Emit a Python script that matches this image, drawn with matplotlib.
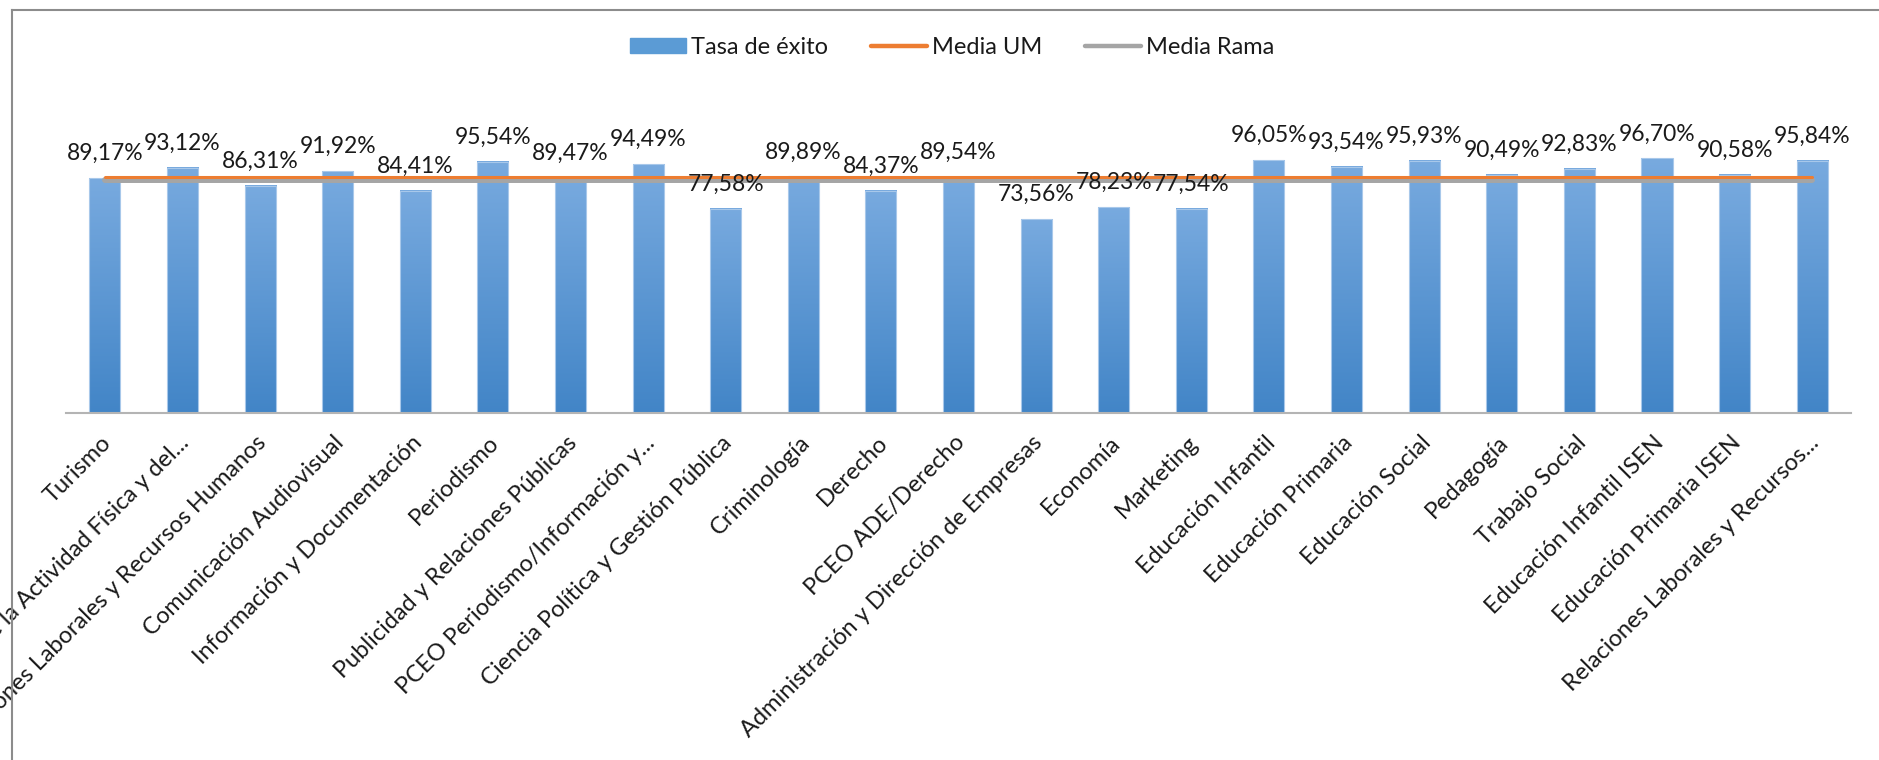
"""Tasa de éxito por titulación, con las medias UM y de rama."""

import matplotlib
matplotlib.use("Agg")
import matplotlib.pyplot as plt
import matplotlib.transforms as mtransforms
from matplotlib.colors import LinearSegmentedColormap
from matplotlib.lines import Line2D
from matplotlib.patches import Patch
import numpy as np

# ---------------------------------------------------------------------------
# Data
# ---------------------------------------------------------------------------
titulaciones = [
    "Turismo",
    "Ciencias de la Actividad Física y del...",
    "Relaciones Laborales y Recursos Humanos",
    "Comunicación Audiovisual",
    "Información y Documentación",
    "Periodismo",
    "Publicidad y Relaciones Públicas",
    "PCEO Periodismo/Información y...",
    "Ciencia Política y Gestión Pública",
    "Criminología",
    "Derecho",
    "PCEO ADE/Derecho",
    "Administración y Dirección de Empresas",
    "Economía",
    "Marketing",
    "Educación Infantil",
    "Educación Primaria",
    "Educación Social",
    "Pedagogía",
    "Trabajo Social",
    "Educación Infantil ISEN",
    "Educación Primaria ISEN",
    "Relaciones Laborales y Recursos...",
]
tasa_exito = [
    89.17, 93.12, 86.31, 91.92, 84.41, 95.54, 89.47, 94.49, 77.58, 89.89,
    84.37, 89.54, 73.56, 78.23, 77.54, 96.05, 93.54, 95.93, 90.49, 92.83,
    96.70, 90.58, 95.84,
]
MEDIA_UM = 89.7
MEDIA_RAMA = 88.4

# ---------------------------------------------------------------------------
# Style
# ---------------------------------------------------------------------------
plt.rcParams["font.family"] = ["Lato", "DejaVu Sans"]
TEXT = "#1a1a1a"
BAR_TOP = "#78aadf"
BAR_BOTTOM = "#4285c7"
ORANGE = "#ed7d31"
GREY = "#a5a5a5"
FS_LABEL = 16.5
FS_TICK = 17
FS_LEGEND = 17

W, H = 1879, 760
fig = plt.figure(figsize=(W / 100, H / 100), dpi=100)
fig.patch.set_facecolor("white")

# plot area: baseline at y=413 px, 100 % = 263 px
x_left, x_right = 66, 1851
base_y = 413
px_per_pct = 2.632
ymax = 120
ax = fig.add_axes([
    x_left / W,
    (H - base_y) / H,
    (x_right - x_left) / W,
    ymax * px_per_pct / H,
])

x = np.arange(len(titulaciones))
bar_w = 0.40
grad = LinearSegmentedColormap.from_list("bar", [BAR_BOTTOM, BAR_TOP])
gradient = np.linspace(0, 1, 256).reshape(-1, 1)

for xi, v in zip(x, tasa_exito):
    ax.imshow(gradient, cmap=grad, origin="lower", aspect="auto",
              extent=(xi - bar_w / 2, xi + bar_w / 2, 0, v),
              interpolation="bicubic", zorder=2)
ax.bar(x, tasa_exito, width=bar_w, facecolor="none",
       edgecolor="#a8c8ea", linewidth=0.8, zorder=2.5)

# ── Medias ──────────────────────────────────────────────────────────────────
ax.plot(x, [MEDIA_RAMA] * len(x), color=GREY, lw=4.3,
        solid_capstyle="round", zorder=3)
ax.plot(x, [MEDIA_UM] * len(x), color=ORANGE, lw=2.2,
        solid_capstyle="round", zorder=3.5)

# ── Etiquetas de datos ──────────────────────────────────────────────────────
for xi, v in zip(x, tasa_exito):
    ax.annotate(f"{v:.2f}%".replace(".", ","), (xi, v),
                xytext=(0, 13), textcoords="offset points",
                ha="center", va="baseline", fontsize=FS_LABEL, color=TEXT,
                zorder=5)

ax.set_xlim(-0.5, len(x) - 0.5)
ax.set_ylim(0, ymax)
ax.set_yticks([])
for side in ("top", "right", "left"):
    ax.spines[side].set_visible(False)
ax.spines["bottom"].set_color("#b4b4b4")
ax.spines["bottom"].set_linewidth(1.5)

ax.set_xticks(x)
ax.set_xticklabels(titulaciones, rotation=45, ha="right", va="center",
                   rotation_mode="anchor", fontsize=FS_TICK, color=TEXT)
ax.tick_params(axis="x", length=0, pad=19)
shift = mtransforms.ScaledTranslation(3 / 100, 0, fig.dpi_scale_trans)
for lab in ax.get_xticklabels():
    lab.set_transform(lab.get_transform() + shift)

# ── Leyenda ─────────────────────────────────────────────────────────────────
handles = [
    Patch(facecolor="#5b9bd5", edgecolor="#5b9bd5"),
    Line2D([0], [0], color=ORANGE, lw=3.2, solid_capstyle="round"),
    Line2D([0], [0], color=GREY, lw=3.2, solid_capstyle="round"),
]
fig.legend(handles, ["Tasa de éxito", "Media UM", "Media Rama"],
           loc="center", bbox_to_anchor=(952 / W, 1 - 47 / H),
           ncol=3, frameon=False, fontsize=FS_LEGEND, handlelength=2.4,
           handleheight=0.6, handletextpad=0.2, columnspacing=1.8,
           labelcolor=TEXT)

# ── Borde del gráfico (recortado a la izquierda y arriba) ──────────────────
fig.add_artist(Line2D([12 / W, 1], [1 - 10 / H, 1 - 10 / H],
                      transform=fig.transFigure, color="#8c8c8c", lw=1.5))
fig.add_artist(Line2D([12 / W, 12 / W], [0, 1 - 10 / H],
                      transform=fig.transFigure, color="#8c8c8c", lw=1.5))

fig.savefig("out.png", dpi=100, facecolor="white")
